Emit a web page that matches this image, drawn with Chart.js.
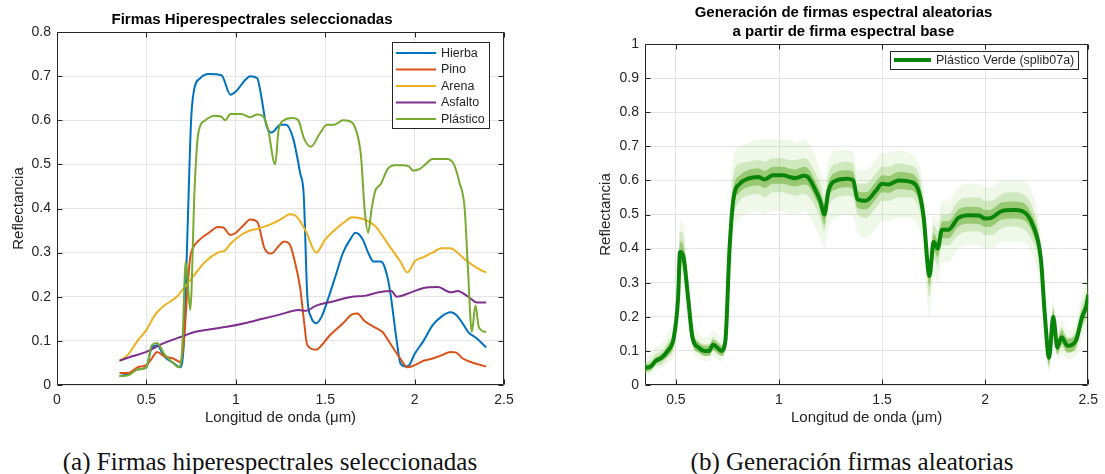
<!DOCTYPE html>
<html>
<head>
<meta charset="utf-8">
<script src="https://cdn.jsdelivr.net/npm/chart.js@4.4.1/dist/chart.umd.min.js"></script>
<style>
  body { margin: 0; background: #fff; width: 1105px; height: 474px; position: relative; overflow: hidden; }
  #wrapA { position: absolute; left: 0; top: 0; width: 545px; height: 430px; }
  #wrapB { position: absolute; left: 555px; top: 0; width: 550px; height: 430px; }
  .cap { position: absolute; top: 448px; font-family: "Liberation Serif", serif; font-size: 25px; color: #111;
         white-space: nowrap; transform: translateX(-50%); }
</style>
</head>
<body>
<div id="wrapA"><canvas id="chartA"></canvas></div>
<div id="wrapB"><canvas id="chartB"></canvas></div>
<div class="cap" style="left:270px">(a) Firmas hiperespectrales seleccionadas</div>
<div class="cap" style="left:852px">(b) Generación firmas aleatorias</div>
<script>
const fontFam = '"Liberation Sans", Arial, sans-serif';
const ink = "#262626";
const gridCol = "#e4e4e4";

// ---------- (a) selected signatures ----------
const namesA = ["Hierba", "Pino", "Arena", "Asfalto", "Plástico"];
const colorsA = ["#0072BD", "#D95319", "#EDB120", "#7E2F8E", "#77AC30"];
const xTicksA = [0, 0.5, 1, 1.5, 2, 2.5];
const yTicksA = [0, 0.1, 0.2, 0.3, 0.4, 0.5, 0.6, 0.7, 0.8];

const hierbaWl = [0.35,0.40,0.45,0.50,0.53,0.56,0.60,0.65,0.69,0.71,0.73,0.75,0.765,0.80,0.85,0.92,0.97,1.00,1.05,1.08,1.12,1.14,1.17,1.20,1.25,1.28,1.32,1.36,1.38,1.40,1.42,1.45,1.48,1.52,1.56,1.60,1.64,1.67,1.71,1.74,1.77,1.81,1.83,1.86,1.90,1.92,1.95,1.97,2.00,2.05,2.10,2.15,2.20,2.23,2.26,2.30,2.35,2.40];
const hierbaVal = [0.02,0.025,0.035,0.04,0.085,0.09,0.065,0.05,0.04,0.1,0.35,0.6,0.665,0.695,0.705,0.702,0.658,0.665,0.69,0.70,0.695,0.66,0.59,0.572,0.59,0.59,0.56,0.48,0.43,0.2,0.155,0.14,0.155,0.2,0.25,0.3,0.33,0.345,0.33,0.3,0.28,0.28,0.27,0.22,0.1,0.05,0.042,0.045,0.07,0.1,0.135,0.155,0.165,0.16,0.145,0.12,0.105,0.085];

const pinoWl = [0.35,0.40,0.45,0.50,0.53,0.56,0.60,0.65,0.69,0.71,0.73,0.745,0.76,0.80,0.85,0.90,0.93,0.97,1.00,1.05,1.08,1.12,1.16,1.20,1.24,1.27,1.30,1.33,1.36,1.38,1.40,1.45,1.48,1.52,1.60,1.65,1.68,1.72,1.78,1.82,1.87,1.92,1.96,2.00,2.05,2.10,2.15,2.20,2.23,2.27,2.33,2.40];
const pinoVal = [0.027,0.027,0.04,0.045,0.06,0.075,0.065,0.06,0.052,0.1,0.22,0.29,0.31,0.33,0.345,0.358,0.357,0.34,0.345,0.365,0.375,0.37,0.31,0.298,0.315,0.325,0.32,0.28,0.22,0.15,0.09,0.08,0.09,0.11,0.14,0.16,0.162,0.145,0.13,0.12,0.09,0.06,0.04,0.045,0.055,0.06,0.067,0.075,0.074,0.06,0.05,0.042];

const arenaWl = [0.35,0.40,0.45,0.50,0.55,0.60,0.67,0.71,0.75,0.83,0.90,0.94,0.97,1.03,1.08,1.13,1.20,1.27,1.30,1.33,1.39,1.45,1.50,1.55,1.61,1.65,1.72,1.78,1.85,1.92,1.96,2.00,2.05,2.10,2.15,2.20,2.24,2.28,2.35,2.40];
const arenaVal = [0.055,0.07,0.1,0.125,0.16,0.18,0.2,0.22,0.24,0.28,0.3,0.305,0.32,0.34,0.35,0.355,0.365,0.38,0.387,0.385,0.35,0.3,0.33,0.35,0.37,0.38,0.375,0.36,0.32,0.28,0.255,0.28,0.29,0.3,0.31,0.31,0.3,0.285,0.265,0.255];

const asfaltoWl = [0.35,0.42,0.50,0.57,0.63,0.70,0.77,0.85,0.95,1.05,1.15,1.25,1.35,1.39,1.45,1.55,1.65,1.72,1.80,1.87,1.90,1.98,2.05,2.13,2.20,2.24,2.30,2.35,2.40];
const asfaltoVal = [0.055,0.065,0.075,0.09,0.1,0.11,0.12,0.126,0.132,0.14,0.15,0.16,0.17,0.168,0.18,0.19,0.2,0.202,0.21,0.213,0.2,0.21,0.22,0.222,0.21,0.213,0.2,0.187,0.187];

const plasticoWl = [0.35,0.40,0.45,0.50,0.53,0.56,0.60,0.65,0.68,0.70,0.72,0.745,0.77,0.79,0.83,0.88,0.92,0.94,0.97,1.03,1.08,1.12,1.15,1.18,1.22,1.24,1.27,1.32,1.35,1.38,1.42,1.47,1.51,1.55,1.60,1.65,1.67,1.70,1.72,1.74,1.76,1.78,1.81,1.85,1.89,1.93,1.97,1.99,2.03,2.06,2.10,2.18,2.22,2.25,2.28,2.30,2.32,2.34,2.36,2.40];
const plasticoVal = [0.02,0.022,0.035,0.04,0.09,0.095,0.07,0.05,0.04,0.08,0.28,0.17,0.45,0.57,0.6,0.61,0.608,0.6,0.614,0.614,0.607,0.613,0.61,0.58,0.5,0.58,0.6,0.605,0.6,0.56,0.54,0.57,0.59,0.59,0.6,0.595,0.58,0.52,0.4,0.345,0.4,0.44,0.455,0.49,0.498,0.498,0.495,0.486,0.49,0.5,0.512,0.512,0.5,0.46,0.4,0.25,0.12,0.18,0.13,0.12];

const wlA = [hierbaWl, pinoWl, arenaWl, asfaltoWl, plasticoWl];
const valA = [hierbaVal, pinoVal, arenaVal, asfaltoVal, plasticoVal];

// ---------- (b) random signatures around base ----------
const xTicksB = [0.5, 1, 1.5, 2, 2.5];
const yTicksB = [0, 0.1, 0.2, 0.3, 0.4, 0.5, 0.6, 0.7, 0.8, 0.9, 1];
const baseName = "Plástico Verde (splib07a)";
const wlB = [0.35,0.38,0.40,0.43,0.46,0.49,0.51,0.52,0.535,0.56,0.58,0.61,0.64,0.66,0.68,0.70,0.72,0.74,0.76,0.78,0.81,0.85,0.90,0.93,0.97,1.02,1.05,1.08,1.12,1.14,1.17,1.20,1.22,1.24,1.28,1.33,1.36,1.38,1.42,1.47,1.50,1.53,1.58,1.63,1.67,1.70,1.73,1.75,1.77,1.79,1.82,1.87,1.92,1.97,2.00,2.03,2.08,2.14,2.18,2.23,2.27,2.29,2.31,2.33,2.35,2.37,2.40,2.44,2.47,2.49,2.50];
const baseVal = [0.05,0.055,0.07,0.08,0.10,0.14,0.25,0.39,0.38,0.25,0.14,0.11,0.10,0.10,0.118,0.11,0.10,0.13,0.40,0.55,0.59,0.605,0.61,0.603,0.615,0.615,0.61,0.607,0.614,0.61,0.58,0.54,0.50,0.57,0.60,0.605,0.60,0.545,0.54,0.57,0.59,0.588,0.60,0.597,0.58,0.50,0.32,0.42,0.40,0.455,0.455,0.49,0.498,0.497,0.488,0.49,0.51,0.513,0.51,0.47,0.37,0.20,0.08,0.20,0.11,0.14,0.115,0.13,0.20,0.23,0.265];
// spread of the random signatures: dense core, middle cloud, faint outer cloud
const coreHi = [0.06,0.065,0.08,0.09,0.115,0.16,0.28,0.42,0.41,0.28,0.16,0.125,0.115,0.115,0.133,0.125,0.115,0.15,0.45,0.58,0.615,0.63,0.635,0.628,0.64,0.64,0.635,0.632,0.64,0.635,0.605,0.565,0.53,0.595,0.625,0.63,0.625,0.57,0.565,0.595,0.615,0.613,0.625,0.622,0.605,0.53,0.35,0.445,0.425,0.48,0.48,0.515,0.523,0.522,0.513,0.515,0.535,0.538,0.535,0.495,0.4,0.23,0.1,0.22,0.13,0.16,0.135,0.15,0.22,0.25,0.29];
const coreLo = [0.04,0.045,0.06,0.07,0.085,0.12,0.22,0.36,0.35,0.22,0.12,0.095,0.085,0.085,0.103,0.095,0.085,0.11,0.35,0.52,0.565,0.58,0.585,0.578,0.59,0.59,0.585,0.582,0.588,0.585,0.555,0.515,0.47,0.545,0.575,0.58,0.575,0.52,0.515,0.545,0.565,0.563,0.575,0.572,0.555,0.47,0.29,0.395,0.375,0.43,0.43,0.465,0.473,0.472,0.463,0.465,0.485,0.488,0.485,0.445,0.34,0.17,0.06,0.18,0.09,0.12,0.095,0.11,0.18,0.21,0.24];
const midHi = [0.065,0.075,0.09,0.10,0.125,0.17,0.30,0.45,0.44,0.29,0.17,0.13,0.12,0.12,0.14,0.13,0.12,0.16,0.45,0.62,0.65,0.655,0.66,0.655,0.665,0.665,0.66,0.66,0.665,0.66,0.63,0.59,0.55,0.62,0.65,0.655,0.65,0.59,0.59,0.62,0.64,0.64,0.65,0.645,0.63,0.55,0.37,0.47,0.45,0.50,0.50,0.54,0.55,0.55,0.54,0.54,0.56,0.565,0.56,0.52,0.41,0.24,0.12,0.23,0.14,0.17,0.14,0.16,0.24,0.27,0.32];
const midLo = [0.035,0.04,0.055,0.06,0.08,0.11,0.21,0.34,0.33,0.21,0.12,0.095,0.085,0.085,0.10,0.09,0.085,0.11,0.36,0.49,0.54,0.555,0.56,0.55,0.565,0.565,0.56,0.555,0.56,0.555,0.53,0.49,0.45,0.52,0.55,0.555,0.55,0.50,0.49,0.52,0.54,0.54,0.55,0.55,0.53,0.45,0.26,0.37,0.35,0.41,0.41,0.44,0.45,0.45,0.44,0.44,0.46,0.465,0.46,0.42,0.33,0.16,0.05,0.17,0.09,0.11,0.095,0.105,0.17,0.19,0.22];
const outerHi = [0.08,0.09,0.11,0.12,0.15,0.2,0.33,0.48,0.47,0.32,0.2,0.15,0.14,0.14,0.16,0.15,0.14,0.19,0.5,0.67,0.7,0.71,0.72,0.72,0.72,0.72,0.72,0.71,0.72,0.71,0.68,0.63,0.6,0.66,0.69,0.69,0.68,0.63,0.63,0.66,0.68,0.68,0.69,0.68,0.66,0.59,0.4,0.5,0.48,0.54,0.54,0.58,0.59,0.59,0.58,0.58,0.6,0.6,0.6,0.56,0.44,0.27,0.15,0.25,0.16,0.19,0.16,0.18,0.27,0.3,0.34];
const outerLo = [0.03,0.032,0.045,0.05,0.065,0.09,0.18,0.3,0.29,0.18,0.1,0.08,0.07,0.07,0.085,0.075,0.07,0.09,0.3,0.44,0.49,0.5,0.51,0.5,0.51,0.51,0.5,0.5,0.51,0.5,0.47,0.43,0.4,0.46,0.49,0.5,0.49,0.45,0.43,0.46,0.48,0.48,0.49,0.49,0.47,0.4,0.2,0.32,0.3,0.36,0.36,0.4,0.41,0.41,0.4,0.4,0.42,0.42,0.42,0.38,0.28,0.12,0.035,0.13,0.075,0.09,0.075,0.085,0.14,0.16,0.19];

const pts = (xs, ys) => xs.map((x, i) => ({ x, y: ys[i] }));
const fmt = (v) => String(+Number(v).toFixed(2));

// MATLAB-like box, inward ticks and framed legend
const boxPlugin = {
  id: "boxPlugin",
  beforeDatasetsDraw(chart) {
    const { ctx, chartArea: a, scales } = chart;
    const t = 5;
    const L = Math.round(a.left) + 0.5, R = Math.round(a.right) - 0.5;
    const T = Math.round(a.top) + 0.5, B = Math.round(a.bottom) - 0.5;
    ctx.save();
    ctx.strokeStyle = ink;
    ctx.lineWidth = 1;
    ctx.beginPath();
    ctx.rect(L, T, R - L, B - T);
    scales.x.ticks.forEach((tk) => {
      const p = Math.round(scales.x.getPixelForValue(tk.value)) + 0.5;
      ctx.moveTo(p, B); ctx.lineTo(p, B - t);
      ctx.moveTo(p, T); ctx.lineTo(p, T + t);
    });
    scales.y.ticks.forEach((tk) => {
      const p = Math.round(scales.y.getPixelForValue(tk.value)) + 0.5;
      ctx.moveTo(L, p); ctx.lineTo(L + t, p);
      ctx.moveTo(R, p); ctx.lineTo(R - t, p);
    });
    ctx.stroke();
    ctx.restore();
  },
  afterDraw(chart, args, o) {
    const { ctx, chartArea: a } = chart;
    const items = chart.data.datasets.filter((d) => d.label);
    ctx.save();
    ctx.font = "12.5px " + fontFam;
    const maxW = Math.max(...items.map((d) => ctx.measureText(d.label).width));
    const w = Math.round(4 + o.sample + 5 + maxW + 4);
    const h = Math.round(o.padTop + (items.length - 1) * o.rowH + o.padBottom);
    const x0 = Math.round(a.right - o.dx - w), y0 = Math.round(a.top + o.dy);
    ctx.fillStyle = "#fff";
    ctx.fillRect(x0, y0, w, h);
    ctx.strokeStyle = ink;
    ctx.lineWidth = 1;
    ctx.strokeRect(x0 + 0.5, y0 + 0.5, w, h);
    items.forEach((d, i) => {
      const cy = y0 + o.padTop + i * o.rowH;
      ctx.strokeStyle = d.borderColor;
      ctx.lineWidth = d.borderWidth;
      ctx.beginPath();
      ctx.moveTo(x0 + 4, cy);
      ctx.lineTo(x0 + 4 + o.sample, cy);
      ctx.stroke();
      ctx.fillStyle = ink;
      ctx.textBaseline = "middle";
      ctx.fillText(d.label, x0 + 4 + o.sample + 5, cy + 0.5);
    });
    ctx.restore();
  },
};

function axes(xmin, xmax, xt, ymin, ymax, yt, yWidth, yTitlePad) {
  const tickFont = { family: fontFam, size: 14 };
  const titleFont = { family: fontFam, size: 15 };
  return {
    x: {
      type: "linear", min: xmin, max: xmax,
      afterBuildTicks: (s) => { s.ticks = xt.map((v) => ({ value: v })); },
      ticks: { color: ink, font: tickFont, padding: 7, maxRotation: 0, callback: fmt },
      grid: { color: gridCol, drawTicks: false },
      border: { display: false },
      title: { display: true, text: "Longitud de onda (μm)", color: ink, font: titleFont, padding: { top: 0, bottom: 3 } },
      afterFit: (s) => { s.height = 45; },
    },
    y: {
      type: "linear", min: ymin, max: ymax,
      afterBuildTicks: (s) => { s.ticks = yt.map((v) => ({ value: v })); },
      ticks: { color: ink, font: tickFont, padding: 6, callback: fmt },
      grid: { color: gridCol, drawTicks: false },
      border: { display: false },
      title: { display: true, text: "Reflectancia", color: ink, font: titleFont, padding: { top: yTitlePad, bottom: 0 } },
      afterFit: (s) => { s.width = yWidth; },
    },
  };
}

new Chart(document.getElementById("chartA"), {
  type: "line",
  data: {
    datasets: namesA.map((name, i) => ({
      label: name,
      data: pts(wlA[i], valA[i]),
      borderColor: colorsA[i],
      borderWidth: 2,
      pointRadius: 0,
      fill: false,
      cubicInterpolationMode: "monotone",
      order: namesA.length - i,
    })),
  },
  options: {
    responsive: true,
    maintainAspectRatio: false,
    animation: false,
    layout: { padding: { left: 0, right: 41, top: 0, bottom: 0 } },
    scales: axes(0, 2.5, xTicksA, 0, 0.8, yTicksA, 57, 10),
    plugins: {
      legend: { display: false },
      tooltip: { enabled: false },
      title: {
        display: true,
        text: "Firmas Hiperespectrales seleccionadas",
        color: "#000",
        font: { family: fontFam, size: 15, weight: "bold", lineHeight: 1.2 },
        padding: { top: 11, bottom: 3 },
      },
      boxPlugin: { dx: 15, dy: 10, sample: 40, rowH: 16.5, padTop: 11, padBottom: 9 },
    },
  },
  plugins: [boxPlugin],
});

const band = (ys, fillCol) => ({
  data: pts(wlB, ys), borderWidth: 0, borderColor: "rgba(0,0,0,0)", pointRadius: 0,
  backgroundColor: fillCol, fill: fillCol ? "+1" : false, cubicInterpolationMode: "monotone",
});

new Chart(document.getElementById("chartB"), {
  type: "line",
  data: {
    datasets: [
      { label: baseName, data: pts(wlB, baseVal), borderColor: "#0a850a", borderWidth: 4,
        pointRadius: 0, fill: false, cubicInterpolationMode: "monotone" },
      band(coreHi, "rgba(95,172,40,0.5)"),
      band(coreLo, null),
      band(midHi, "rgba(120,190,65,0.26)"),
      band(midLo, null),
      band(outerHi, "rgba(130,195,80,0.12)"),
      band(outerLo, null),
    ],
  },
  options: {
    responsive: true,
    maintainAspectRatio: false,
    animation: false,
    layout: { padding: { left: 40, right: 13, top: 0, bottom: 0 } },
    scales: axes(0.35, 2.5, xTicksB, 0, 1, yTicksB, 50, 2),
    plugins: {
      legend: { display: false },
      tooltip: { enabled: false },
      title: {
        display: true,
        text: ["Generación de firmas espectral aleatorias", "a partir de firma espectral base"],
        color: "#000",
        font: { family: fontFam, size: 15, weight: "bold", lineHeight: 1.25 },
        padding: { top: 3.5, bottom: 3 },
      },
      boxPlugin: { dx: 10, dy: 7, sample: 37, rowH: 0, padTop: 9, padBottom: 8.5 },
    },
  },
  plugins: [boxPlugin],
});
</script>
</body>
</html>
